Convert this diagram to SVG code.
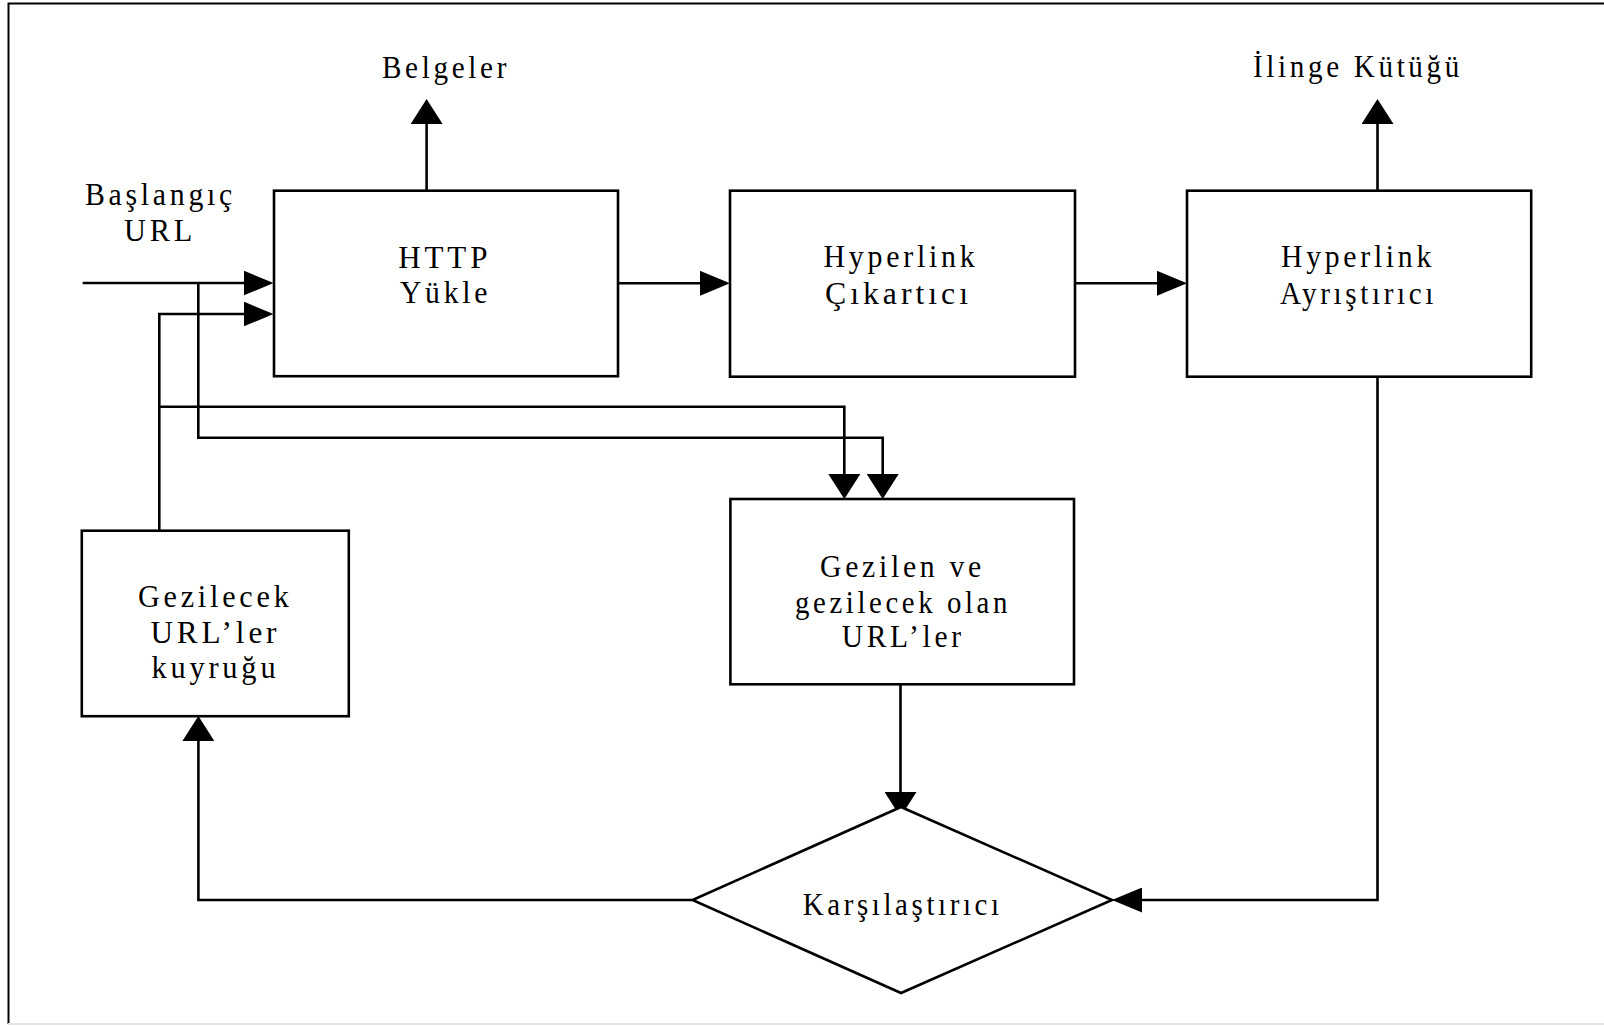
<svg xmlns="http://www.w3.org/2000/svg" width="1604" height="1026" viewBox="0 0 1604 1026">
<style>
.bx{fill:#fff;stroke:#000;stroke-width:2.6}
.ln{fill:none;stroke:#000;stroke-width:2.6}
text{font-family:"Liberation Serif","Times New Roman",serif;font-size:32px;fill:#000;letter-spacing:4px}
</style>
<defs>
<marker id="ah" markerUnits="userSpaceOnUse" markerWidth="30" markerHeight="25" refX="25" refY="12.5" orient="auto" viewBox="0 0 30 25"><path d="M0,0 L30,12.5 L0,25 z" fill="#000"/></marker>
<marker id="av" markerUnits="userSpaceOnUse" markerWidth="25" markerHeight="32" refX="20" refY="16" orient="auto" viewBox="0 0 25 32"><path d="M0,0 L25,16 L0,32 z" fill="#000"/></marker>
</defs>
<rect width="1604" height="1026" fill="#fff"/>
<g id="frame">
<path d="M8.5,1024 V3.5 H1610" fill="none" stroke="#000" stroke-width="2"/>
<line x1="8" y1="1024" x2="1604" y2="1024" stroke="#e4e4e4" stroke-width="2"/>
</g>
<g id="connectors">
<path class="ln" d="M82.7,283 H268.5" marker-end="url(#ah)"/>
<path class="ln" d="M159.3,531 V314 H268.5" marker-end="url(#ah)"/>
<path class="ln" d="M198.3,283 V437.7 H882.7 V494" marker-end="url(#av)"/>
<path class="ln" d="M159.3,406.7 H844.3 V494" marker-end="url(#av)"/>
<path class="ln" d="M426.6,190.7 V104" marker-end="url(#av)"/>
<path class="ln" d="M618,283.3 H725" marker-end="url(#ah)"/>
<path class="ln" d="M1075,283.3 H1182" marker-end="url(#ah)"/>
<path class="ln" d="M1377.5,190.7 V104" marker-end="url(#av)"/>
<path class="ln" d="M1377.5,376.7 V900 H1117" marker-end="url(#ah)"/>
<path class="ln" d="M900.5,684.3 V812" marker-end="url(#av)"/>
<path class="ln" d="M692.5,900 H198.4 V721" marker-end="url(#av)"/>
</g>
<g id="labels">
<text x="382" y="77.5" textLength="128" lengthAdjust="spacingAndGlyphs">Belgeler</text>
<text x="1253" y="77.3" textLength="210" lengthAdjust="spacingAndGlyphs">İlinge Kütüğü</text>
<text x="85" y="205" textLength="151" lengthAdjust="spacingAndGlyphs">Başlangıç</text>
<text x="124" y="241" textLength="72" lengthAdjust="spacingAndGlyphs">URL</text>
</g>
<g id="http">
<rect class="bx" x="274" y="190.7" width="344" height="185.5"/>
<text x="398.3" y="268.3" textLength="93" lengthAdjust="spacingAndGlyphs">HTTP</text>
<text x="400" y="303.3" textLength="91" lengthAdjust="spacingAndGlyphs">Yükle</text>
</g>
<g id="cikartici">
<rect class="bx" x="730" y="190.7" width="345" height="186"/>
<text x="823.4" y="267.3" textLength="155" lengthAdjust="spacingAndGlyphs">Hyperlink</text>
<text x="825" y="304" textLength="147" lengthAdjust="spacingAndGlyphs">Çıkartıcı</text>
</g>
<g id="ayristirici">
<rect class="bx" x="1187" y="190.7" width="344.2" height="186"/>
<text x="1281" y="267.3" textLength="154" lengthAdjust="spacingAndGlyphs">Hyperlink</text>
<text x="1280" y="304" textLength="157" lengthAdjust="spacingAndGlyphs">Ayrıştırıcı</text>
</g>
<g id="kuyruk">
<rect class="bx" x="81.8" y="530.7" width="267" height="185.5"/>
<text x="138" y="606.7" textLength="154.5" lengthAdjust="spacingAndGlyphs">Gezilecek</text>
<text x="150.4" y="642.7" textLength="130" lengthAdjust="spacingAndGlyphs">URL’ler</text>
<text x="151.4" y="678" textLength="128" lengthAdjust="spacingAndGlyphs">kuyruğu</text>
</g>
<g id="gezilen">
<rect class="bx" x="730.4" y="499" width="343.6" height="185.3"/>
<text x="820" y="577.3" textLength="165" lengthAdjust="spacingAndGlyphs">Gezilen ve</text>
<text x="795" y="612.7" textLength="216" lengthAdjust="spacingAndGlyphs">gezilecek olan</text>
<text x="841.7" y="647.3" textLength="123" lengthAdjust="spacingAndGlyphs">URL’ler</text>
</g>
<g id="karsilastirici">
<polygon class="bx" points="901,807 1112,900 901,993 692.5,900"/>
<text x="802.7" y="915" textLength="200" lengthAdjust="spacingAndGlyphs">Karşılaştırıcı</text>
</g>
</svg>
